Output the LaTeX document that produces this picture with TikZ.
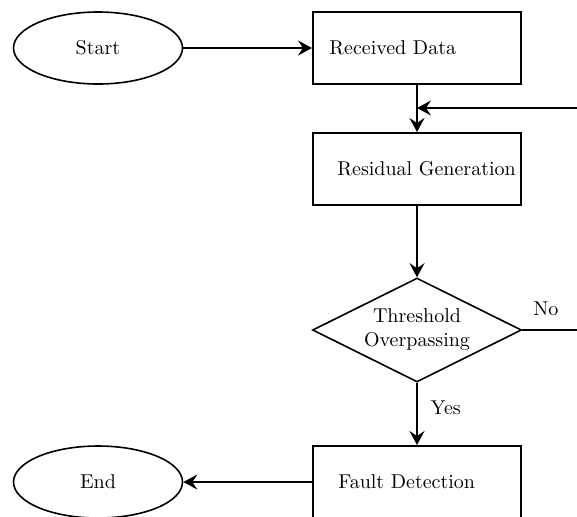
\documentclass[tikz,border=0pt]{standalone}
\usetikzlibrary{positioning}
\usetikzlibrary{shapes.geometric}
\usetikzlibrary{arrows.meta}

\begin{document}
\begin{tikzpicture}
[x=0.5pt, y=-0.5pt,
 terminal/.style={shape=ellipse,draw,line width=0.8pt,minimum width=84.5pt,minimum height=36pt},
 process/.style={shape=rectangle,draw,line width=1pt,minimum width=104pt,minimum height=36pt},
 decision/.style={shape=diamond,draw,line width=0.8pt,aspect=2,inner sep=0pt,align=center,
   minimum width=104.5pt,minimum height=52pt},
 boxtext/.style={inner sep=0pt},
 flow/.style={line width=1pt,-{Stealth[length=7pt,width=7.5pt,inset=2.5pt]}}]

\useasboundingbox (0,0) rectangle (577,516);
\clip (0,0) rectangle (577,516);

\node (start) [terminal] at (98,48) {Start};
\node (recv) [process] at (417,48) {};
\node (resid) [process] at (417,169) {};
\node (thresh) [decision] at (417,330) {Threshold\\Overpassing};
\node (fault) [process] at (417,482) {};
\node (finish) [terminal] at (98,482) {End};

\node (recvtext) [boxtext,right=8.5pt of recv.west] {Received Data};
\node (residtext) [boxtext,right=12.5pt of resid.west] {Residual Generation};
\node (faulttext) [boxtext,right=13pt of fault.west] {Fault Detection};

\coordinate (back) at (577,108);
\coordinate (noend) at (577,330);

\draw [flow] (start) -- (recv);
\draw [flow] (recv) -- (resid);
\draw [flow] (back) -- (back -| recv.south);
\draw [flow] (resid) -- (thresh);
\draw [line width=1pt] (thresh) -- (noend) node [pos=0.43,above=3.5pt] {No};
\draw [flow] (thresh) -- node [pos=0.4,right=3pt] {Yes} (fault);
\draw [flow] (fault) -- (finish);

\end{tikzpicture}
\end{document}
